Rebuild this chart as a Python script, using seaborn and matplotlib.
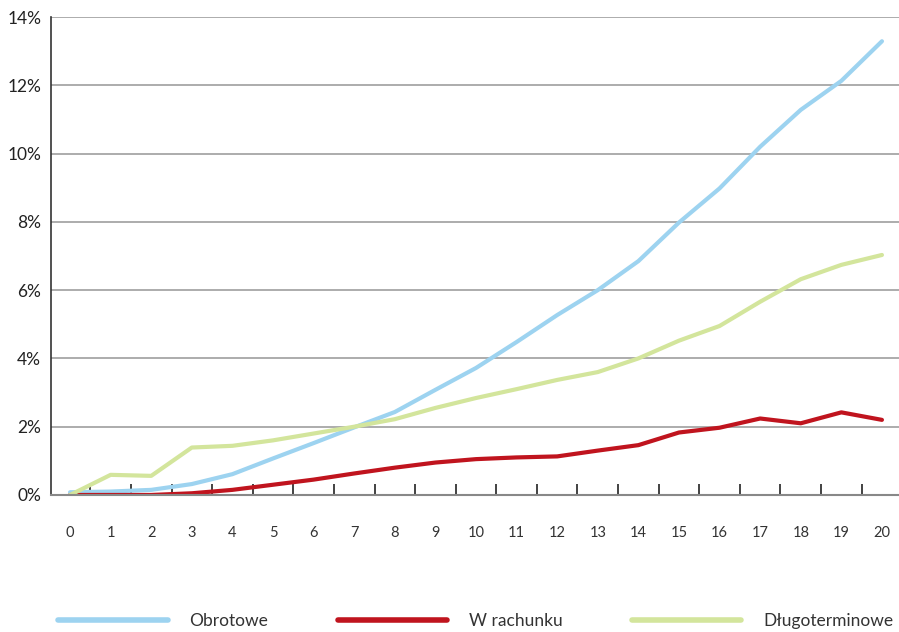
import numpy as np
import pandas as pd
import matplotlib
matplotlib.use("Agg")
import matplotlib.pyplot as plt
from matplotlib.ticker import FixedLocator, FuncFormatter
import seaborn as sns

# data (percent)
years = list(range(21))
obrotowe = [0.08, 0.1, 0.15, 0.32, 0.61, 1.07, 1.52, 1.98, 2.43, 3.08, 3.72,
            4.48, 5.27, 6.0, 6.85, 7.98, 8.98, 10.2, 11.28, 12.13, 13.29]
w_rachunku = [0.0, 0.0, 0.0, 0.05, 0.15, 0.3, 0.45, 0.63, 0.8, 0.95, 1.05,
              1.1, 1.13, 1.3, 1.46, 1.83, 1.97, 2.24, 2.1, 2.42, 2.2]
dlugoterminowe = [0.0, 0.59, 0.56, 1.39, 1.44, 1.6, 1.8, 2.0, 2.22, 2.55, 2.84,
                  3.1, 3.37, 3.6, 4.0, 4.52, 4.95, 5.66, 6.32, 6.74, 7.03]
series_names = ["Obrotowe", "W rachunku", "Długoterminowe"]
colors = ["#9dd3f0", "#c0141e", "#d3e59c"]

df = pd.DataFrame({
    "rok": years * 3,
    "wartosc": obrotowe + w_rachunku + dlugoterminowe,
    "seria": np.repeat(series_names, len(years)),
})

sns.set_style("white")
plt.rcParams["font.family"] = ["Lato", "DejaVu Sans"]

fig = plt.figure(figsize=(8.99, 6.32), dpi=100)
ax = fig.add_axes([0.0567, 0.2168, 0.9433, 0.7563])

sns.lineplot(data=df, x="rok", y="wartosc", hue="seria", hue_order=series_names,
             palette=colors, linewidth=3, ax=ax, legend=False,
             solid_capstyle="round")

ax.set_xlim(-0.47, 20.42)
ax.set_ylim(0, 14)
ax.set_yticks(range(0, 15, 2))
ax.yaxis.set_major_formatter(FuncFormatter(lambda v, p: f"{int(v)}%"))
ax.yaxis.grid(True, color="#a6a6a6", linewidth=1.3)
ax.set_axisbelow(True)

ax.set_xticks(years)
ax.xaxis.set_minor_locator(FixedLocator([y + 0.5 for y in years[:-1]]))
ax.tick_params(axis="x", which="major", length=0, pad=22, labelsize=10.5,
               labelcolor="#333333")
ax.tick_params(axis="x", which="minor", direction="in", length=8, width=1.2,
               color="#222222", bottom=True)
ax.tick_params(axis="y", length=0, pad=7, labelsize=12.5, labelcolor="#222222")

ax.set_xlabel("")
ax.set_ylabel("")
for side in ["top", "right"]:
    ax.spines[side].set_visible(False)
ax.spines["left"].set_color("#333333")
ax.spines["left"].set_linewidth(1.2)
ax.spines["bottom"].set_color("#888888")
ax.spines["bottom"].set_linewidth(1.5)

handles = [plt.Line2D([], [], color=c, linewidth=4, solid_capstyle="round") for c in colors]
fig.legend(handles, series_names, loc="center", bbox_to_anchor=(0.529, 0.018),
           ncol=3, frameon=False, fontsize=12.5, handlelength=6.3,
           handletextpad=1.25, columnspacing=4.0, labelcolor="#333333",
           borderpad=0, borderaxespad=0)

fig.savefig("out.png", dpi=100)
